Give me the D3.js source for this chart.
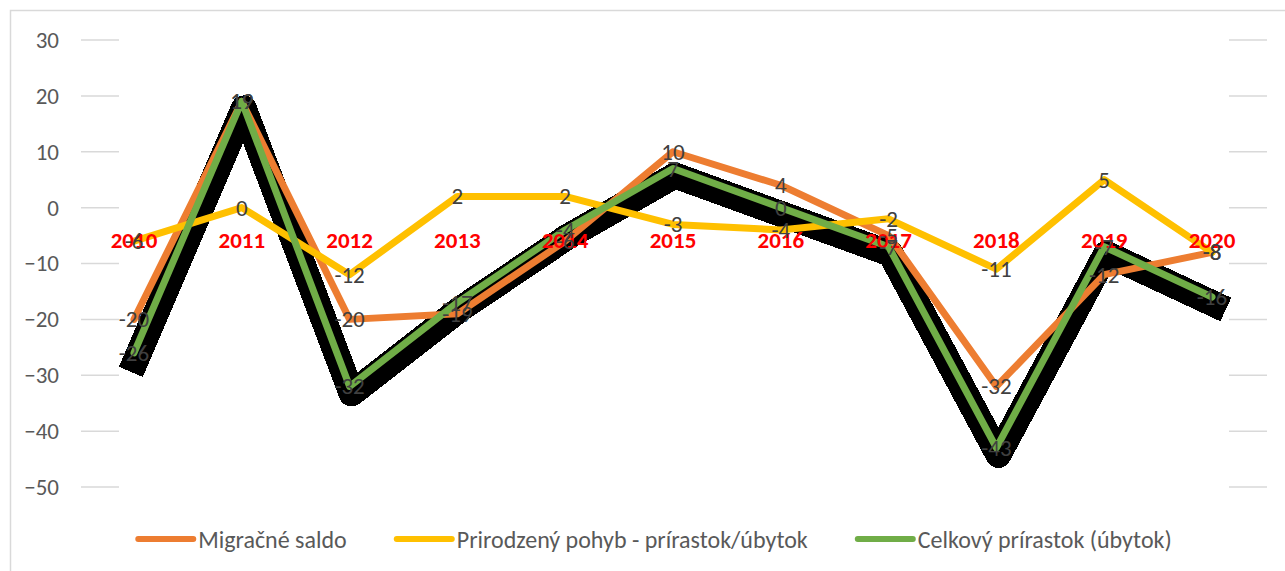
<!DOCTYPE html>
<html>
<head>
<meta charset="utf-8">
<script src="https://cdn.jsdelivr.net/npm/d3@7"></script>
<style>
  body { margin: 0; background: #fff; }
  svg { display: block; }
  text { font-family: Carlito, Calibri, "Liberation Sans Narrow", Lato, sans-serif; }
</style>
</head>
<body>
<svg id="chart" width="1285" height="571"></svg>
<script>
  // data
  var years = ['2010', '2011', '2012', '2013', '2014', '2015', '2016', '2017', '2018', '2019', '2020']
  var migracne = [-20, 19, -20, -19, -6, 10, 4, -5, -32, -12, -8]
  var prirodzeny = [-6, 0, -12, 2, 2, -3, -4, -2, -11, 5, -8]
  var celkovy = [-26, 19, -32, -17, -4, 7, 0, -7, -43, -7, -16]
  var yTicks = [30, 20, 10, 0, -10, -20, -30, -40, -50]
  var seriesNames = ['Migračné saldo', 'Prirodzený pohyb - prírastok/úbytok', 'Celkový prírastok (úbytok)']
  var seriesColors = ['#ed7d31', '#ffc000', '#70ad47']

  var svg = d3.select('#chart')

  var x = d3.scalePoint().domain(years).range([134, 1212])
  var y = d3.scaleLinear().domain([-50, 30]).range([487, 40])

  // chart border
  svg.append('rect')
    .attr('x', 10.5).attr('y', 10.5)
    .attr('width', 1400).attr('height', 700)
    .attr('fill', 'none').attr('stroke', '#d9d9d9').attr('stroke-width', 1.5)

  // gridline stubs (only visible at both ends)
  var grid = svg.append('g')
  yTicks.forEach(function (t) {
    grid.append('line').attr('x1', 81).attr('x2', 119).attr('y1', y(t)).attr('y2', y(t))
      .attr('stroke', '#d9d9d9').attr('stroke-width', 1.5)
    grid.append('line').attr('x1', 1229).attr('x2', 1267).attr('y1', y(t)).attr('y2', y(t))
      .attr('stroke', '#d9d9d9').attr('stroke-width', 1.5)
  })

  // y axis
  var yAxis = d3.axisLeft(y).tickValues(yTicks).tickSize(0).tickPadding(0)
  var ga = svg.append('g').attr('transform', 'translate(59,0)').call(yAxis)
  ga.select('.domain').remove()
  ga.selectAll('text').attr('font-size', 23).attr('fill', '#595959')
    .style('font-family', 'Carlito, Calibri, "Liberation Sans Narrow", Lato, sans-serif')

  var line = d3.line()
    .x(function (d, i) { return x(years[i]) })
    .y(function (d) { return y(d) })

  // black shadow under the total line
  svg.append('path')
    .datum(celkovy)
    .attr('d', line)
    .attr('transform', 'translate(2,7)')
    .attr('fill', 'none').attr('stroke', '#000').attr('stroke-width', 26)
    .attr('stroke-linejoin', 'round').attr('stroke-linecap', 'square')
    .attr('shape-rendering', 'crispEdges')

  var allSeries = [migracne, prirodzeny, celkovy]
  allSeries.forEach(function (s, k) {
    svg.append('path')
      .datum(s)
      .attr('d', line)
      .attr('fill', 'none').attr('stroke', seriesColors[k]).attr('stroke-width', 7)
      .attr('stroke-linejoin', 'round').attr('stroke-linecap', 'round')
  })

  // year labels (red)
  svg.append('g').selectAll('text').data(years).enter().append('text')
    .attr('x', function (d) { return x(d) })
    .attr('y', y(0) + 32)
    .attr('text-anchor', 'middle').attr('dominant-baseline', 'central')
    .attr('font-size', 23).attr('font-weight', 'bold').attr('fill', '#ff0000')
    .text(function (d) { return d })

  // data labels
  allSeries.forEach(function (s) {
    svg.append('g').selectAll('text').data(s).enter().append('text')
      .attr('x', function (d, i) { return x(years[i]) })
      .attr('y', function (d) { return y(d) })
      .attr('text-anchor', 'middle').attr('dominant-baseline', 'central')
      .attr('font-size', 23).attr('fill', '#404040')
      .text(function (d) { return d })
  })

  // legend
  var legend = svg.append('g')
  var items = seriesNames.map(function (name, k) {
    var g = legend.append('g')
    g.append('line').attr('x1', 0).attr('x2', 55).attr('y1', 0).attr('y2', 0)
      .attr('stroke', seriesColors[k]).attr('stroke-width', 6).attr('stroke-linecap', 'round')
    var t = g.append('text').attr('x', 60).attr('y', 0)
      .attr('dominant-baseline', 'central')
      .attr('font-size', 24).attr('fill', '#595959').text(name)
    return { g: g, w: 60 + t.node().getComputedTextLength() }
  })
  var gap = 50
  var total = d3.sum(items, function (d) { return d.w }) + gap * (items.length - 1)
  var lx = 655 - total / 2
  items.forEach(function (it) {
    it.g.attr('transform', 'translate(' + lx + ',539)')
    lx += it.w + gap
  })
</script>
</body>
</html>
